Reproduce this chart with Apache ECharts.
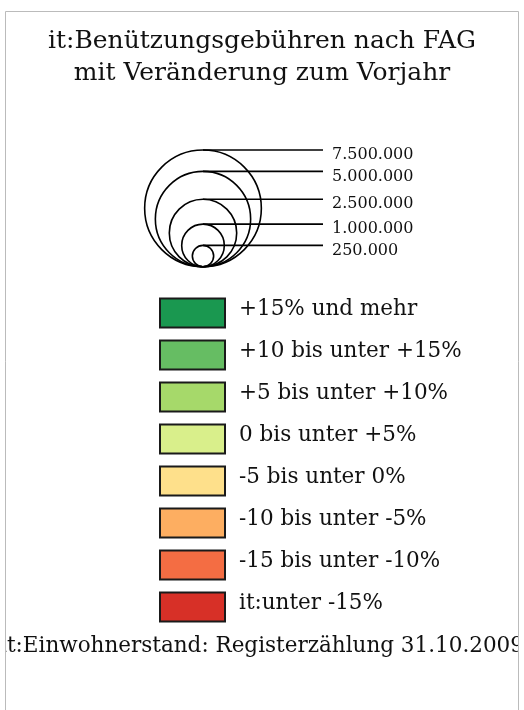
<!DOCTYPE html>
<html><head><meta charset="utf-8">
<script src="https://cdn.jsdelivr.net/npm/echarts@6/dist/echarts.min.js"></script>
<style>html,body{margin:0;padding:0;background:#fff;overflow:hidden;} #c{position:absolute;left:5px;top:0;width:514px;height:710px;}</style>
</head><body><div id="c"></div>
<script>
const titleLines = ['it:Benützungsgebühren nach FAG', 'mit Veränderung zum Vorjahr'];
const sizeValues = [7500000, 5000000, 2500000, 1000000, 250000];
const sizeLabels = ['7.500.000', '5.000.000', '2.500.000', '1.000.000', '250.000'];
const classLabels = ['+15% und mehr', '+10 bis unter +15%', '+5 bis unter +10%', '0 bis unter +5%',
  '-5 bis unter 0%', '-10 bis unter -5%', '-15 bis unter -10%', 'it:unter -15%'];
const classColors = ['#1a9850', '#66bd63', '#a6d96a', '#d9ef8b', '#fee08b', '#fdae61', '#f46d43', '#d73027'];
const footnote = 'it:Einwohnerstand: Registerzählung 31.10.2009';

const FONT = 'DejaVu Serif';
const maxV = Math.max(...sizeValues);
const chart = echarts.init(document.getElementById('c'), null, {renderer: 'canvas'});

const classSeries = classLabels.map((name, i) => ({
  type: 'scatter', name, data: [],
  itemStyle: {color: classColors[i], opacity: 1, borderColor: '#1a1a1a', borderWidth: 1,
    shadowColor: 'rgba(0,0,0,0.35)', shadowOffsetX: 1.5, shadowOffsetY: 1.5, shadowBlur: 0}
}));

chart.setOption({
  animation: false,
  backgroundColor: '#fff',
  title: [{
    text: titleLines.join('\n'), left: 'center', top: 20,
    textStyle: {fontFamily: FONT, fontSize: 25, fontWeight: 'normal', color: '#111', lineHeight: 32}
  }, {
    text: footnote, left: 'center', top: 628,
    textStyle: {fontFamily: FONT, fontSize: 21.5, fontWeight: 'normal', color: '#111', lineHeight: 26}
  }],
  graphic: [{
    type: 'rect', shape: {x: 0.5, y: 11.5, width: 513, height: 720},
    style: {fill: 'none', stroke: '#bbb', lineWidth: 1}, z: 100, silent: true
  }],
  grid: {left: 198, top: 150, width: 120, height: 116.7},
  xAxis: {type: 'value', min: 0, max: 1, show: false},
  yAxis: {type: 'value', min: 0, max: 2 * Math.sqrt(maxV), show: false},
  legend: {
    orient: 'vertical', left: 154, top: 297.5, padding: 0,
    itemWidth: 65, itemHeight: 29, itemGap: 11, icon: 'rect',
    selectedMode: false,
    formatter: '{t|{name}}',
    textStyle: {
      fontFamily: FONT, fontSize: 21.5, color: '#111',
      rich: {t: {fontFamily: FONT, fontSize: 21.5, color: '#111', lineHeight: 22, padding: [0, 0, 8, 9]}}
    },
    data: classLabels
  },
  series: [{
    type: 'custom',
    data: sizeValues.map((v, i) => [0, v, i]),
    renderItem: function (params, api) {
      const v = api.value(1);
      const i = api.value(2);
      const base = api.coord([0, 0]);
      const topPt = api.coord([0, 2 * Math.sqrt(v)]);
      const endX = api.coord([1, 0])[0];
      const r = (base[1] - topPt[1]) / 2;
      return {
        type: 'group',
        children: [{
          type: 'circle', shape: {cx: base[0], cy: base[1] - r, r: r},
          style: {fill: 'none', stroke: '#000', lineWidth: 1.6}
        }, {
          type: 'line', shape: {x1: base[0], y1: topPt[1], x2: endX, y2: topPt[1]},
          style: {stroke: '#000', lineWidth: 1.6}
        }, {
          type: 'text', x: endX + 9, y: topPt[1] + 5,
          style: {text: sizeLabels[i], fontFamily: FONT, fontSize: 16, fill: '#111',
            verticalAlign: 'middle', align: 'left'}
        }]
      };
    }
  }].concat(classSeries)
});
</script></body></html>
